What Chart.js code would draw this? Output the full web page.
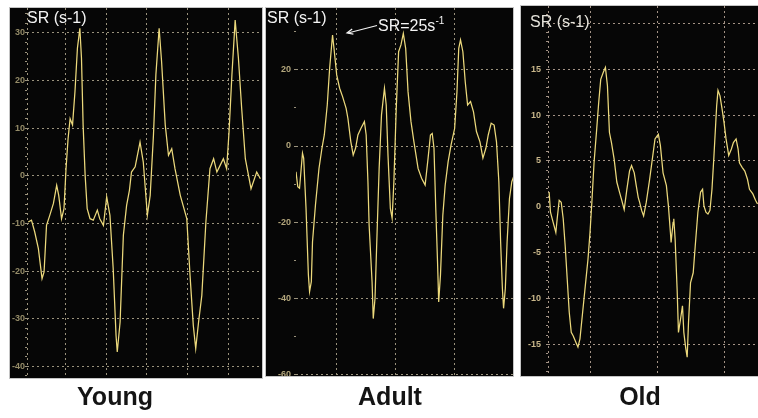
<!DOCTYPE html>
<html>
<head>
<meta charset="utf-8">
<script src="https://cdn.jsdelivr.net/npm/chart.js@4.4.1/dist/chart.umd.min.js"></script>
<style>
  body { margin: 0; width: 758px; height: 418px; background: #fff; position: relative; overflow: hidden;
         font-family: "Liberation Sans", Arial, sans-serif; }
  .panel { position: absolute; background: #060606; outline: 1px solid #c4c4c4; }
  .panel canvas { display: block; }
  .sr { position: absolute; color: #f4f4f4; font-size: 16px; line-height: 16px; white-space: nowrap; }
  .group { position: absolute; top: 384px; width: 140px; text-align: center; color: #141414;
           font-size: 25px; line-height: 25px; font-weight: bold; }
  sup { font-size: 10px; vertical-align: 7px; line-height: 0; }
</style>
</head>
<body>

<div class="panel" style="left:10px;top:8px;width:252px;height:370px"><canvas id="young" width="252" height="370"></canvas></div>
<div class="panel" style="left:266px;top:8px;width:247px;height:368px"><canvas id="adult" width="247" height="368"></canvas></div>
<div class="panel" style="left:521px;top:6px;width:237px;height:370px"><canvas id="old" width="237" height="370"></canvas></div>

<div class="sr" style="left:27px;top:10px">SR (s-1)</div>
<div class="sr" style="left:267px;top:10px">SR (s-1)</div>
<div class="sr" style="left:530px;top:14px;color:#e6e4dc">SR (s-1)</div>
<div class="sr" style="left:378px;top:18px">SR=25s<sup>-1</sup></div>

<svg style="position:absolute;left:0;top:0" width="758" height="418">
  <line x1="377" y1="25.5" x2="348" y2="33" stroke="#f4f4f4" stroke-width="1.2"/>
  <polyline points="353.4,34.2 347,33 352.2,29" fill="none" stroke="#f4f4f4" stroke-width="1.2"/>
</svg>

<div class="group" style="left:45px">Young</div>
<div class="group" style="left:320px">Adult</div>
<div class="group" style="left:570px">Old</div>

<script>
// Young: strain rate trace (time in ms, SR in 1/s)
const youngTime = [8, 16, 24, 33, 42, 47, 53, 61, 70, 78, 83, 90, 96, 101, 106, 111, 117, 123, 129, 135,
  139, 143, 148, 153, 160, 168, 178, 184, 193, 201, 209, 217, 224, 227, 234, 242, 250, 257, 262, 271,
  283, 291, 301, 308, 316, 322, 330, 336, 345, 353, 361, 369, 382, 398, 406, 414, 420, 427, 435, 445,
  455, 464, 472, 480, 488, 496, 502, 509, 517, 525, 533, 542, 556, 570, 579];
const youngSR = [-9.7, -9.3, -11.8, -15.3, -21.6, -20.2, -10.4, -8.3, -5.8, -2.0, -4.1, -9.0, -6.9, 1.5, 7.8, 12.0, 10.7, 17.7, 26.8, 31.0,
  24.7, 10.7, 0.1, -6.9, -9.0, -9.3, -7.2, -9.0, -10.4, -4.4, -8.3, -19.5, -33.5, -37.0, -30.7, -12.5, -6.2, -3.0, 0.8, 1.9,
  7.1, 2.9, -8.3, -4.1, 8.5, 21.2, 31.0, 24.0, 10.7, 4.3, 5.7, 1.5, -4.1, -9.0, -20.9, -31.4, -36.3, -30.7, -25.1, -9.7,
  1.5, 3.6, 0.8, 2.2, 3.6, 1.5, 9.3, 21.2, 32.7, 24.7, 14.2, 3.6, -2.7, 0.8, -0.6];
const youngTickLabels = [-40, -30, -20, -10, 0, 10, 20, 30];
const youngTimeGrid = [100, 200, 300, 400, 500];

// Adult
const adultTime = [32, 35, 38, 43, 45, 49, 53, 55, 58, 60, 65, 71, 76, 80, 85, 89, 93, 94, 97, 101,
  106, 111, 117, 120, 125, 129, 133, 137, 142, 148, 151, 154, 156, 161, 163, 166, 169, 173, 177, 182,
  185, 188, 192, 195, 198, 202, 206, 210, 214, 218, 222, 227, 232, 239, 245, 251, 256, 260, 263, 266,
  269, 272, 274, 277, 281, 285, 290, 295, 301, 305, 308, 311, 315, 319, 323, 328, 333, 338, 344, 349,
  354, 358, 363, 368, 372, 376, 379, 382, 384, 387, 390, 394, 398, 402];
const adultSR = [-6.8, -10.7, -11.1, -1.9, -3.2, -16.4, -33.9, -38.3, -35.7, -25.2, -15.5, -5.9, -0.6, 2.9, 10.8, 20.4, 27.5, 29.2, 24.8, 18.7,
  15.2, 13.0, 9.9, 7.3, 1.1, -2.4, -0.6, 2.9, 4.6, 6.4, 2.9, -9.4, -20.8, -35.7, -45.4, -40.1, -25.2, -5.9, 8.2, 15.2,
  10.8, -2.4, -16.4, -19.0, -9.4, 9.9, 24.8, 26.6, 29.6, 25.7, 14.3, 6.4, 1.1, -5.9, -8.5, -10.3, -3.2, 2.9, 3.3, -0.6,
  -16.4, -30.4, -41.0, -33.9, -18.2, -10.3, -4.1, 0.3, 4.6, 14.3, 25.7, 27.9, 24.8, 16.9, 10.8, 11.7, 9.0, 3.8, 1.1, -3.2,
  -0.6, 2.9, 6.0, 5.5, 1.1, -9.4, -25.2, -37.5, -42.7, -37.5, -25.2, -13.8, -9.4, -7.6];
const adultTickLabels = [-60, -40, -20, 0, 20];
const adultTimeGrid = [100, 200, 300];

// Old
const oldTime = [39, 41, 45, 49, 51, 54, 57, 60, 63, 66, 69, 72, 75, 79, 82, 85, 89, 93, 97, 100,
  103, 106, 110, 113, 116, 120, 123, 126, 129, 132, 136, 140, 144, 147, 151, 155, 159, 162, 166, 169,
  172, 174, 177, 180, 184, 189, 193, 197, 200, 202, 205, 209, 214, 217, 220, 221, 224, 225, 227, 230,
  232, 235, 238, 240, 243, 245, 247, 250, 254, 257, 261, 265, 268, 270, 273, 276, 279, 282, 285, 289,
  291, 294, 297, 300, 303, 307, 311, 314, 318, 321, 323, 327, 331, 335, 338, 343, 347, 350];
const oldSR = [1.6, -0.6, -1.7, -2.8, -1.3, 0.7, 0.5, -1.3, -4.3, -7.9, -11.5, -13.7, -14.1, -14.8, -15.3, -14.4, -11.5, -8.6, -5.7, -2.8,
  0.8, 4.8, 8.5, 11.4, 13.9, 14.7, 15.2, 13.2, 8.1, 7.0, 5.2, 2.7, 1.6, 0.8, -0.3, 1.9, 3.9, 4.5, 3.7, 2.3,
  1.0, 0.5, -0.4, -1.0, 0.5, 3.0, 5.2, 7.4, 7.7, 7.9, 6.7, 3.7, 2.3, 0.1, -2.8, -3.9, -1.7, -1.3, -3.5, -9.0,
  -13.7, -12.3, -10.8, -13.7, -15.5, -16.4, -12.6, -8.3, -7.2, -4.3, -0.6, 1.6, 1.9, 0.1, -0.6, -0.8, -0.4, 1.9, 5.6, 11.0,
  12.7, 12.1, 10.7, 9.2, 7.4, 5.6, 6.3, 7.0, 7.4, 6.3, 4.8, 4.3, 3.9, 3.0, 1.9, 1.4, 0.7, 0.3];
const oldTickLabels = [-15, -10, -5, 0, 5, 10, 15];
const oldTimeGrid = [100, 200, 300];

const traceColor = '#ecd97c';

function drawPanel(id, time, values, cfg) {
    const points = time.map((t, i) => ({ x: t, y: values[i] }));

    // small dots along the y axis, a dotted grid line on every major step
    const yTicks = [];
    for (let v = Math.ceil(cfg.yMin / cfg.minorStep) * cfg.minorStep; v <= cfg.yMax; v += cfg.minorStep) {
        yTicks.push(v);
    }
    const xTicks = cfg.axisLine ? [cfg.xMin].concat(cfg.timeGrid) : cfg.timeGrid;

    return new Chart(document.getElementById(id), {
        type: 'line',
        data: {
            datasets: [{
                data: points,
                borderColor: traceColor,
                borderWidth: 1.25,
                pointRadius: 0,
                tension: 0
            }]
        },
        options: {
            responsive: false,
            animation: false,
            layout: { padding: 0 },
            plugins: { legend: { display: false }, tooltip: { enabled: false } },
            scales: {
                x: {
                    type: 'linear',
                    min: cfg.xMin,
                    max: cfg.xMax,
                    afterBuildTicks: s => { s.ticks = xTicks.map(v => ({ value: v })); },
                    afterFit: s => { s.height = 0; s.paddingLeft = 0; s.paddingRight = 0; },
                    ticks: { display: false },
                    grid: { color: cfg.gridColor, drawTicks: false },
                    border: { display: false, dash: [2, 3] }
                },
                y: {
                    min: cfg.yMin,
                    max: cfg.yMax,
                    afterBuildTicks: s => { s.ticks = yTicks.map(v => ({ value: v })); },
                    afterFit: s => { s.width = cfg.axisWidth; s.paddingTop = 0; s.paddingBottom = 0; },
                    ticks: {
                        autoSkip: false,
                        padding: cfg.labelPad,
                        color: cfg.labelColor,
                        font: { family: '"Liberation Sans", Arial', size: 9, weight: 'bold' },
                        callback: v => cfg.labels.includes(v) ? String(v) : ''
                    },
                    grid: {
                        color: c => (c.tick && c.tick.value % cfg.majorStep === 0) ? cfg.gridColor : 'transparent',
                        tickColor: cfg.gridColor,
                        tickLength: 2
                    },
                    border: { display: false, dash: [2, 3] }
                }
            }
        }
    });
}

drawPanel('young', youngTime, youngSR, {
    xMin: 5, xMax: 583, timeGrid: youngTimeGrid, axisLine: true,
    yMin: -42.46, yMax: 35.25, minorStep: 2, majorStep: 10, labels: youngTickLabels,
    axisWidth: 17, labelPad: 0, labelColor: '#958c68', gridColor: '#9a927c'
});

drawPanel('adult', adultTime, adultSR, {
    xMin: 32, xMax: 400, timeGrid: adultTimeGrid, axisLine: false,
    yMin: -60.5, yMax: 36.3, minorStep: 10, majorStep: 20, labels: adultTickLabels,
    axisWidth: 30, labelPad: 3, labelColor: '#b3a67c', gridColor: '#9a927c'
});

drawPanel('old', oldTime, oldSR, {
    xMin: 37.3, xMax: 350.7, timeGrid: oldTimeGrid, axisLine: true,
    yMin: -18.46, yMax: 21.9, minorStep: 1, majorStep: 5, labels: oldTickLabels,
    axisWidth: 27, labelPad: 5, labelColor: '#c8b68a', gridColor: '#a39285'
});
</script>
</body>
</html>
